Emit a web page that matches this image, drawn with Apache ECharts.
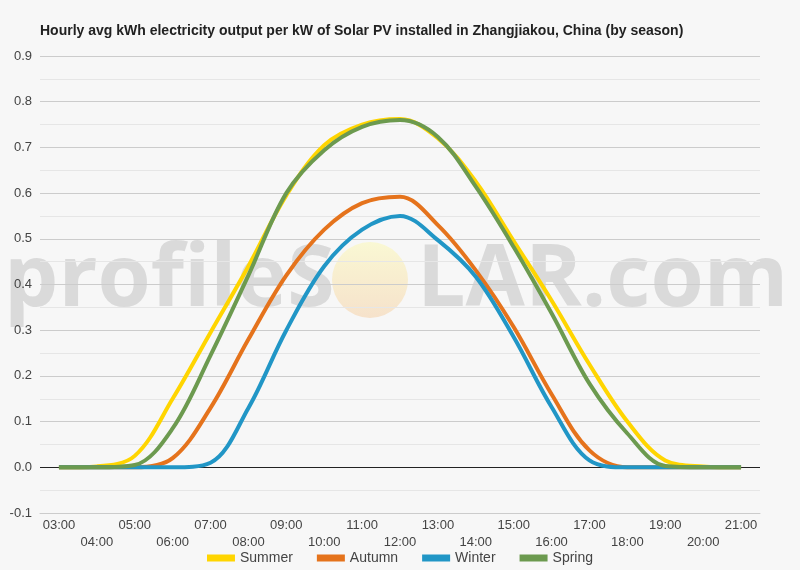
<!DOCTYPE html>
<html>
<head>
<meta charset="utf-8">
<script src="https://cdn.jsdelivr.net/npm/echarts@6/dist/echarts.min.js"></script>
<style>
html,body{margin:0;padding:0;background:#f7f7f7;}
#chart{width:800px;height:570px;}
</style>
</head>
<body>
<div id="chart"></div>
<script>
// hourly categories
var hours = ['03:00','04:00','05:00','06:00','07:00','08:00','09:00','10:00','11:00','12:00',
             '13:00','14:00','15:00','16:00','17:00','18:00','19:00','20:00','21:00'];
// kWh per kW
var summer = [0, 0.002, 0.025, 0.15, 0.295, 0.44, 0.595, 0.705, 0.75, 0.762, 0.72, 0.625, 0.495, 0.365, 0.225, 0.1, 0.015, 0.002, 0];
var autumn = [0, 0, 0, 0.02, 0.13, 0.28, 0.42, 0.52, 0.578, 0.592, 0.53, 0.431, 0.307, 0.16, 0.037, 0, 0, 0, 0];
var winter = [0, 0, 0, 0, 0.01, 0.13, 0.30, 0.44, 0.52, 0.55, 0.497, 0.417, 0.285, 0.132, 0.015, 0, 0, 0, 0];
var spring = [0, 0, 0.005, 0.085, 0.245, 0.42, 0.60, 0.694, 0.745, 0.76, 0.723, 0.614, 0.482, 0.337, 0.183, 0.074, 0.003, 0, 0];
var seasons = ['Summer', 'Autumn', 'Winter', 'Spring'];
var colors = ['#FFD500', '#E5731C', '#2196C6', '#6C9A4F'];

// split line colours: -0.1, 0.0 (black zero line), 0.1 ... 0.9
var splitColors = ['#cccccc', '#222222', '#cccccc', '#cccccc', '#cccccc', '#cccccc',
                   '#cccccc', '#cccccc', '#cccccc', '#cccccc', '#cccccc'];

var myChart = echarts.init(document.getElementById('chart'));

function makeSeries(name, data, i){
    return {
        name: name,
        type: 'line',
        smooth: 0.35,
        symbol: 'none',
        data: data,
        lineStyle: {width: 4, color: colors[i]},
        itemStyle: {color: colors[i]}
    };
}

var option = {
    backgroundColor: '#f7f7f7',
    animation: false,
    title: {
        text: 'Hourly avg kWh electricity output per kW of Solar PV installed in Zhangjiakou, China (by season)',
        left: 35,
        top: 19,
        textStyle: {fontFamily: 'Liberation Sans', fontSize: 14, fontWeight: 'bold', color: '#222'}
    },
    // watermark
    graphic: [
        {
            type: 'text', left: 4, top: 238, z: 0, silent: true,
            style: {text: 'profileS', font: 'bold 86px "Open Sans"', fill: 'rgba(190,190,190,0.5)'}
        },
        {
            type: 'circle', shape: {cx: 370, cy: 280, r: 38}, z: 0, silent: true,
            style: {
                fill: new echarts.graphic.LinearGradient(0, 0, 0, 1, [
                    {offset: 0, color: 'rgba(250,248,205,0.85)'},
                    {offset: 1, color: 'rgba(246,222,195,0.85)'}
                ])
            }
        },
        {
            type: 'text', left: 417, top: 238, z: 0, silent: true,
            style: {text: 'LAR.com', font: 'bold 86px "Open Sans"', fill: 'rgba(190,190,190,0.5)'}
        }
    ],
    legend: {
        data: seasons,
        bottom: 0,
        left: 'center',
        icon: 'rect',
        itemWidth: 28,
        itemHeight: 7,
        itemGap: 24,
        textStyle: {fontFamily: 'Liberation Sans', fontSize: 14, color: '#444'}
    },
    grid: {left: 40, right: 40, top: 56, bottom: 57},
    xAxis: {
        type: 'category',
        data: hours,
        boundaryGap: true,
        axisLine: {show: true, onZero: false, lineStyle: {color: '#cccccc'}},
        axisTick: {show: false},
        axisLabel: {
            interval: 0,
            fontFamily: 'Liberation Sans',
            fontSize: 13,
            color: '#444',
            lineHeight: 17,
            margin: 4,
            formatter: function(v, idx){ return idx % 2 ? '\n' + v : v; }
        }
    },
    yAxis: {
        type: 'value',
        min: -0.1,
        max: 0.9,
        interval: 0.1,
        axisLine: {show: false},
        axisTick: {show: false},
        axisLabel: {
            fontFamily: 'Liberation Sans', fontSize: 13, color: '#444', margin: 8,
            formatter: function(v){ return v.toFixed(1); }
        },
        splitLine: {lineStyle: {color: splitColors, width: 1}},
        minorTick: {show: false, splitNumber: 2},
        minorSplitLine: {show: true, lineStyle: {color: '#e6e6e6', width: 1}}
    },
    series: [
        makeSeries('Summer', summer, 0),
        makeSeries('Autumn', autumn, 1),
        makeSeries('Winter', winter, 2),
        makeSeries('Spring', spring, 3)
    ]
};
myChart.setOption(option);
</script>
</body>
</html>
